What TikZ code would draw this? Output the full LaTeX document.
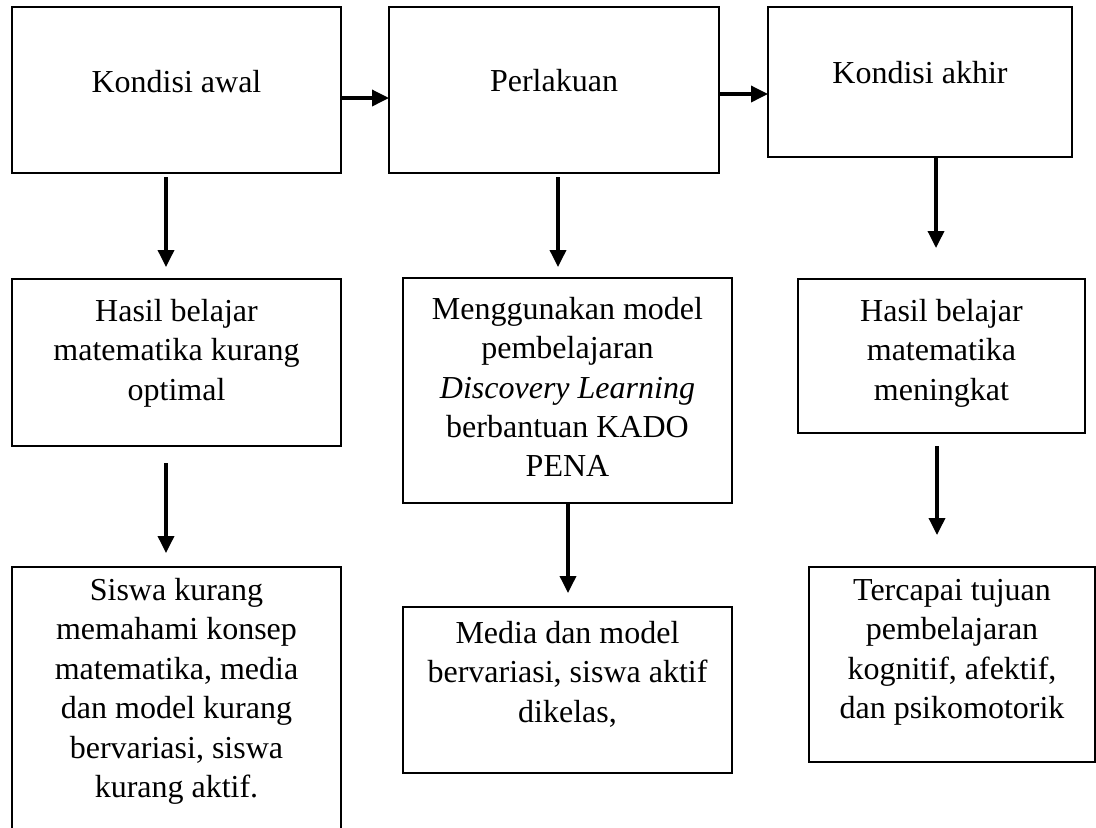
\documentclass[tikz,border=0pt]{standalone}
\usepackage{fontspec}
\setmainfont{Liberation Serif}
\usepackage{tikz}
\usetikzlibrary{arrows.meta,positioning}
\tikzset{
  box/.style={draw=black,line width=1.15pt,inner sep=0pt,outer sep=0pt},
  txt/.style={font=\fontsize{16}{19.7}\selectfont,align=center,inner sep=0pt},
  arr/.style={-{Triangle[length=8.5pt,width=8pt]},draw=black,line width=1.75pt},
}
\begin{document}
\begin{tikzpicture}[x=0.5pt,y=-0.5pt]
\useasboundingbox (0,0) rectangle (1096,827);
\clip (0,0) rectangle (1096,827);
% Kondisi awal
\node[box,minimum width=164.5pt,minimum height=83pt] (awal) at (176.5,90) {};
\node[txt,below=28.7pt of awal.north] (awalT) {\strut Kondisi awal};
\node[box,minimum width=164.5pt,minimum height=83.5pt] (hasilA) at (176.5,362.5) {};
\node[txt,below=7.2pt of hasilA.north] (hasilAT) {\strut Hasil belajar\\matematika kurang\\optimal};
\node[box,minimum width=164.5pt,minimum height=166.5pt] (siswaA) at (176.5,733.5) {};
\node[txt,below=2.7pt of siswaA.north] (siswaAT) {\strut Siswa kurang\\memahami konsep\\matematika, media\\dan model kurang\\bervariasi, siswa\\kurang aktif.};
% Perlakuan
\node[box,minimum width=165pt,minimum height=83pt] (perlakuan) at (554,90) {};
\node[txt,below=28.2pt of perlakuan.north] (perlakuanT) {\strut Perlakuan};
\node[box,minimum width=164.5pt,minimum height=112.5pt] (model) at (567.5,390.5) {};
\node[txt,below=6.7pt of model.north] (modelT) {\strut Menggunakan model\\pembelajaran\\\textit{Discovery Learning}\\berbantuan KADO\\PENA};
\node[box,minimum width=164.5pt,minimum height=83pt] (media) at (567.5,690) {};
\node[txt,below=4.2pt of media.north] (mediaT) {\strut Media dan model\\bervariasi, siswa aktif\\dikelas,};
% Kondisi akhir
\node[box,minimum width=152pt,minimum height=75pt] (akhir) at (920,82) {};
\node[txt,below=24.2pt of akhir.north] (akhirT) {\strut Kondisi akhir};
\node[box,minimum width=143.5pt,minimum height=77pt] (hasilB) at (941.5,356) {};
\node[txt,below=7.2pt of hasilB.north] (hasilBT) {\strut Hasil belajar\\matematika\\meningkat};
\node[box,minimum width=143pt,minimum height=97.5pt] (tujuan) at (952,664.5) {};
\node[txt,below=2.7pt of tujuan.north] (tujuanT) {\strut Tercapai tujuan\\pembelajaran\\kognitif, afektif,\\dan psikomotorik};
% arrows
\draw[arr] ([yshift=-4pt]awal.east) -- ([yshift=-4pt]perlakuan.west);
\draw[arr] ([yshift=-2pt]perlakuan.east) -- ([yshift=-6pt]akhir.west);
\draw[arr] ([xshift=-5.25pt,yshift=-2pt]awal.south) -- ([xshift=-5.25pt,yshift=6pt]hasilA.north);
\draw[arr] ([xshift=-5.25pt,yshift=-8.5pt]hasilA.south) -- ([xshift=-5.25pt,yshift=7pt]siswaA.north);
\draw[arr] ([xshift=2pt,yshift=-2pt]perlakuan.south) -- ([xshift=-4.75pt,yshift=5.5pt]model.north);
\draw[arr] ([xshift=0.25pt]model.south) -- ([xshift=0.25pt,yshift=7pt]media.north);
\draw[arr] ([xshift=8pt]akhir.south) -- ([xshift=-2.75pt,yshift=15.5pt]hasilB.north);
\draw[arr] ([xshift=-2.25pt,yshift=-6.5pt]hasilB.south) -- ([xshift=-7.5pt,yshift=16pt]tujuan.north);
\end{tikzpicture}
\end{document}
